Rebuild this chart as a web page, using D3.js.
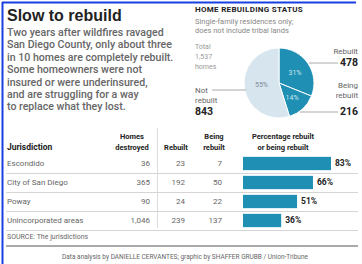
<!DOCTYPE html>
<html><head><meta charset="utf-8">
<script src="https://cdn.jsdelivr.net/npm/d3@7"></script>
<style>
body{margin:0;background:#fff;}
svg{display:block;font-family:"Roboto","Liberation Sans",sans-serif;}
</style></head><body>
<svg id="c" width="362" height="264"></svg>
<script>
const pieLabels = ["Rebuilt","Being rebuilt","Not rebuilt"];
const pieValues = [478,216,843];
const piePct = ["31%","14%","55%"];
const jurisdictions = ["Escondido","City of San Diego","Poway","Unincorporated areas"];
const destroyed = ["36","365","90","1,046"];
const rebuilt = [23,192,24,239];
const beingRebuilt = [7,50,22,137];
const pctRebuilt = [83,66,51,36];
const bodyLines = ["Two years after wildfires ravaged","San Diego County, only about three","in 10 homes are completely rebuilt.","Some homeowners were not","insured or were underinsured,","and are struggling for a way","to replace what they lost."];

const svg = d3.select("#c");
const blue = "#1f8fb3", light = "#d7e5ee", gray="#666", dark="#222";

// frame
svg.append("line").attr("x1",2.5).attr("x2",2.5).attr("y1",2).attr("y2",264).attr("stroke","#1a3fe0").attr("stroke-width",2);
svg.append("line").attr("x1",2).attr("x2",356).attr("y1",2.5).attr("y2",2.5).attr("stroke","#1a3fe0").attr("stroke-width",2);

// title
svg.append("text").attr("x",7).attr("y",21).text("Slow to rebuild").attr("font-size",16).attr("font-weight","bold").attr("fill",dark).attr("font-family","Liberation Sans, Arial, sans-serif");
svg.append("g").selectAll("text").data(bodyLines).join("text")
  .attr("x",7).attr("y",(d,i)=>36+i*12.4).text(d=>d)
  .attr("font-size",10.6).attr("font-weight",500).attr("fill","#666");

// pie header
svg.append("text").attr("x",195).attr("y",12).text("HOME REBUILDING STATUS").attr("font-size",8).attr("font-weight","bold").attr("fill",dark).attr("letter-spacing",0.3);
svg.append("text").attr("x",195).attr("y",24).text("Single-family residences only;").attr("font-size",7.5).attr("fill","#888");
svg.append("text").attr("x",195).attr("y",33).text("does not include tribal lands").attr("font-size",7.5).attr("fill","#888");
["Total","1,537","homes"].forEach((t,i)=>svg.append("text").attr("x",195).attr("y",49+i*10).text(t).attr("font-size",7).attr("fill","#999"));

const cx=279, cy=83, r=35;
const pie = d3.pie().sort(null).value(d=>d)(pieValues);
const arc = d3.arc().innerRadius(0).outerRadius(r);
const colors=[blue,blue,light];
const pg = svg.append("g").attr("transform",`translate(${cx},${cy})`);
pg.selectAll("path").data(pie).join("path").attr("d",arc).attr("fill",(d,i)=>colors[i]).attr("stroke","#fff").attr("stroke-width",1);
const lab = d3.arc().innerRadius(r*0.55).outerRadius(r*0.55);
pg.selectAll("text").data(pie).join("text")
  .attr("transform",(d,i)=>{const c=lab.centroid(d); if(i==2){c[0]=-r*0.5;c[1]=2;} return `translate(${c})`;})
  .attr("text-anchor","middle").attr("dy","0.35em").attr("font-size",7)
  .attr("fill",(d,i)=>i<2?"#cde6ef":"#7a8a95").text((d,i)=>piePct[i]);

// leader lines
svg.append("line").attr("x1",309).attr("x2",338).attr("y1",63).attr("y2",63).attr("stroke","#aaa").attr("stroke-width",1);
svg.append("line").attr("x1",300).attr("x2",338).attr("y1",112).attr("y2",112).attr("stroke","#aaa").attr("stroke-width",1);
svg.append("line").attr("x1",212).attr("x2",246).attr("y1",90).attr("y2",90).attr("stroke","#aaa").attr("stroke-width",1);

svg.append("text").attr("x",358).attr("y",54).attr("text-anchor","end").text("Rebuilt").attr("font-size",8).attr("fill",gray);
svg.append("text").attr("x",358).attr("y",66).attr("text-anchor","end").text(pieValues[0]).attr("font-size",10.5).attr("font-weight","bold").attr("fill",dark);
svg.append("text").attr("x",358).attr("y",88).attr("text-anchor","end").text("Being").attr("font-size",8).attr("fill",gray);
svg.append("text").attr("x",358).attr("y",98).attr("text-anchor","end").text("rebuilt").attr("font-size",8).attr("fill",gray);
svg.append("text").attr("x",358).attr("y",115).attr("text-anchor","end").text(pieValues[1]).attr("font-size",10.5).attr("font-weight","bold").attr("fill",dark);
svg.append("text").attr("x",195).attr("y",93).text("Not").attr("font-size",8).attr("fill",gray);
svg.append("text").attr("x",195).attr("y",103).text("rebuilt").attr("font-size",8).attr("fill",gray);
svg.append("text").attr("x",195).attr("y",115).text(pieValues[2]).attr("font-size",10.5).attr("font-weight","bold").attr("fill",dark);

// table
const hfs=7.5;
svg.append("text").attr("x",7).attr("y",150).text("Jurisdiction").attr("font-size",8.5).attr("font-weight","bold").attr("fill",dark);
[["Homes","destroyed",132],["","Rebuilt",176],["Being","rebuilt",214],["Percentage rebuilt","or being rebuilt",283]].forEach(h=>{
  svg.append("text").attr("x",h[2]).attr("y",139).attr("text-anchor","middle").text(h[0]).attr("font-size",hfs).attr("font-weight","bold").attr("fill",dark);
  svg.append("text").attr("x",h[2]).attr("y",150).attr("text-anchor","middle").text(h[1]).attr("font-size",hfs).attr("font-weight","bold").attr("fill",dark);
});
svg.append("line").attr("x1",157.5).attr("x2",157.5).attr("y1",128).attr("y2",228).attr("stroke","#ddd");

const y = d3.scaleBand().domain(jurisdictions).range([154,230]).paddingInner(0.3).paddingOuter(0.15);
const x = d3.scaleLinear().domain([0,100]).range([243,349]);
const rowStep = y.step();
const rows = svg.append("g");
jurisdictions.forEach((j,i)=>{
  const yc = y(j)+y.bandwidth()/2;
  rows.append("text").attr("x",7).attr("y",yc).attr("dy","0.35em").text(j).attr("font-size",8).attr("fill",gray);
  rows.append("text").attr("x",150).attr("y",yc).attr("dy","0.35em").attr("text-anchor","end").text(destroyed[i]).attr("font-size",8).attr("fill",gray);
  rows.append("text").attr("x",185).attr("y",yc).attr("dy","0.35em").attr("text-anchor","end").text(rebuilt[i]).attr("font-size",8).attr("fill",gray);
  rows.append("text").attr("x",222).attr("y",yc).attr("dy","0.35em").attr("text-anchor","end").text(beingRebuilt[i]).attr("font-size",8).attr("fill",gray);
  rows.append("rect").attr("x",x(0)).attr("y",y(j)).attr("width",x(pctRebuilt[i])-x(0)).attr("height",y.bandwidth()).attr("fill",blue);
  rows.append("text").attr("x",x(pctRebuilt[i])+4).attr("y",yc).attr("dy","0.35em").text(pctRebuilt[i]+"%").attr("font-size",8.5).attr("font-weight","bold").attr("fill",dark);
  rows.append("line").attr("x1",6).attr("x2",358).attr("y1",y(j)+y.bandwidth()+rowStep*0.15+0.5).attr("y2",y(j)+y.bandwidth()+rowStep*0.15+0.5).attr("stroke","#d5d5d5");
});
svg.append("text").attr("x",7).attr("y",239).text("SOURCE: The jurisdictions").attr("font-size",7).attr("fill",gray);
svg.append("rect").attr("x",6).attr("y",245).attr("width",352).attr("height",2).attr("fill","#aaa");
svg.append("text").attr("x",185).attr("y",259).attr("text-anchor","middle").text("Data analysis by DANIELLE CERVANTES; graphic by SHAFFER GRUBB / Union-Tribune").attr("font-size",6.5).attr("fill",gray);
</script></body></html>
